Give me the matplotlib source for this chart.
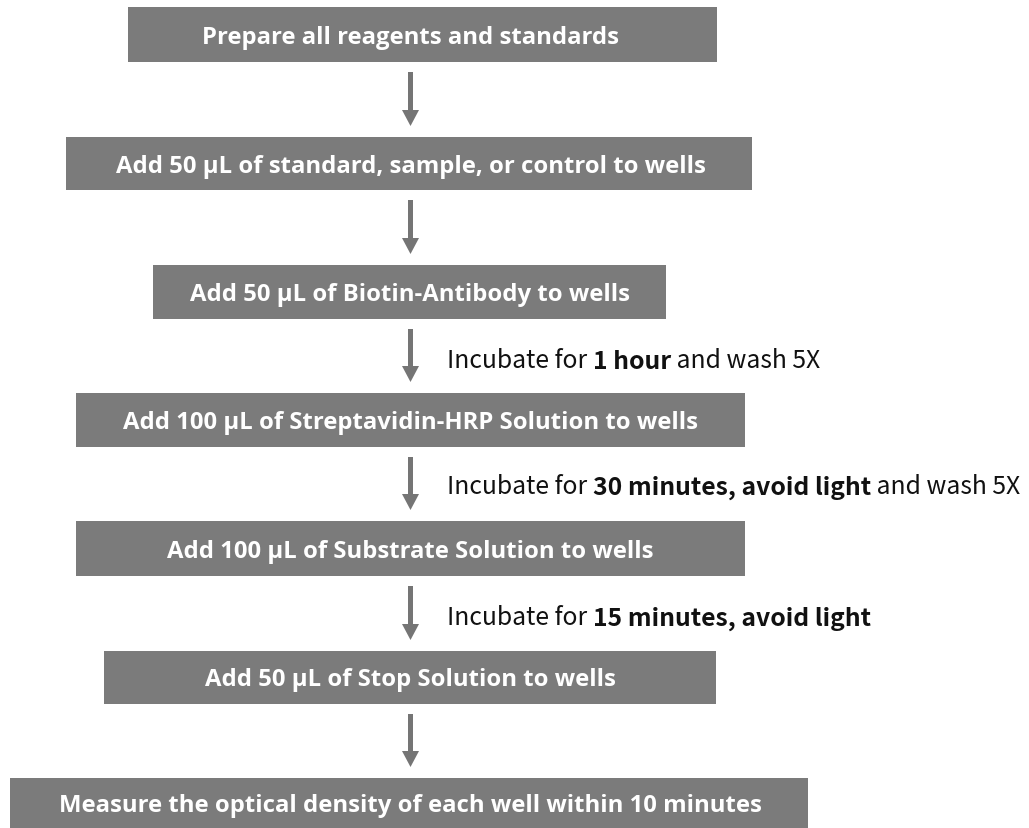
import matplotlib.pyplot as plt
from matplotlib.patches import Rectangle, FancyArrow

# step texts, top to bottom
steps = [
    'Prepare all reagents and standards',
    'Add 50 µL of standard, sample, or control to wells',
    'Add 50 µL of Biotin-Antibody to wells',
    'Add 100 µL of Streptavidin-HRP Solution to wells',
    'Add 100 µL of Substrate Solution to wells',
    'Add 50 µL of Stop Solution to wells',
    'Measure the optical density of each well within 10 minutes',
]

# notes next to arrows (index of arrow below step i): (plain, bold, plain)
notes = {
    2: ('Incubate for ', '1 hour', ' and wash 5X'),
    3: ('Incubate for ', '30 minutes, avoid light', ' and wash 5X'),
    4: ('Incubate for ', '15 minutes, avoid light', ''),
}

# box geometry in pixels (left, right, top, bottom)
box_left = [128, 66, 153, 76, 76, 104, 10]
box_right = [717, 752, 666, 745, 745, 716, 808]
box_top = [8, 138, 266, 394, 522, 652, 779]
box_bottom = [63, 191, 320, 448, 577, 705, 829]

BOX = '#7b7b7b'
ARROW = '#757575'
CX = 410.5  # common centre line for the labels and the arrows

fig = plt.figure(figsize=(10.29, 8.29), dpi=100)
ax = fig.add_axes([0, 0, 1, 1])
ax.set_xlim(0, 1029)
ax.set_ylim(829, 0)
ax.axis('off')

for i, label in enumerate(steps):
    l, r, t, b = box_left[i], box_right[i], box_top[i], box_bottom[i]
    ax.add_patch(Rectangle((l, t), r - l, b - t, facecolor=BOX, edgecolor='none'))
    ax.text(CX, (t + b) / 2 + 2, label, ha='center', va='center',
            color='white', fontsize=17.2, fontweight='bold', family='Open Sans')

fs = 17.8
for i in range(len(steps) - 1):
    y0 = box_bottom[i] + 10
    y1 = box_top[i + 1] - 11
    ax.add_patch(FancyArrow(CX, y0, 0, y1 - y0, width=5, head_width=17,
                            head_length=16, length_includes_head=True,
                            facecolor=ARROW, edgecolor='none'))
    if i in notes:
        plain1, bold, plain2 = notes[i]
        ymid = (y0 + y1) / 2 + 17
        if i == 3:
            ymid -= 2
        t1 = ax.text(447, ymid, plain1, ha='left', va='bottom', fontsize=fs,
                     family='Noto Sans CJK SC', color='#111111')
        t2 = ax.annotate(bold, xy=(1, 0), xycoords=t1, ha='left', va='bottom',
                         fontsize=fs, fontweight='bold',
                         family='Noto Sans CJK SC', color='#111111')
        if plain2:
            ax.annotate(plain2, xy=(1, 0), xycoords=t2, ha='left', va='bottom',
                        fontsize=fs, family='Noto Sans CJK SC', color='#111111')

fig.savefig('out.png', dpi=100)
